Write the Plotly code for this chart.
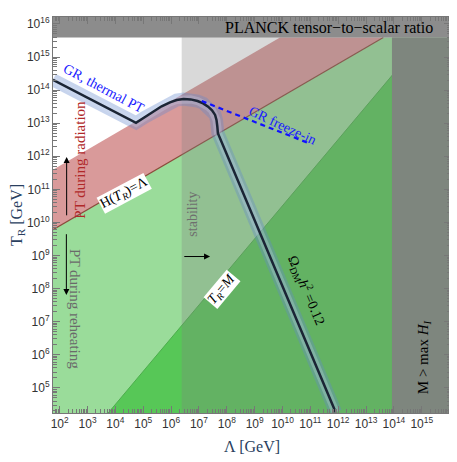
import plotly.graph_objects as go

# all values are log10 of GeV
x_lo, x_hi = 1.76, 16.05
y_lo, y_hi = 4.24, 16.21

planck_y = 15.59          # bottom of the PLANCK band
stab_x = 6.38             # start of stability region
mmax_x = 13.93            # start of M > max H_I band

# red band: upper line and H(T_R)=Lambda line
red_up_x = [1.76, 9.91]
red_up_y = [11.59, 15.59]
hline_x = [1.76, 13.62]
hline_y = [9.78, 15.59]

# T_R = M line
trm_x = [3.74, 14.05]
trm_y = [4.24, 14.56]

# relic abundance curve Omega h^2 = 0.12
dm_x = [1.76, 4.74, 5.05, 5.36, 5.66, 5.96, 6.20, 6.45, 6.70, 6.95, 7.15, 7.33, 7.47, 7.58, 7.63, 7.66, 7.68, 11.91]
dm_y = [14.31, 13.01, 13.18, 13.35, 13.51, 13.63, 13.70, 13.73, 13.72, 13.67, 13.60, 13.50, 13.39, 13.25, 13.10, 12.90, 12.70, 4.26]

# GR freeze-in dashed line
fi_x = [7.10, 10.93]
fi_y = [13.67, 12.40]

x_ticks = list(range(2, 16))
y_ticks = list(range(5, 17))

SERIF = "Liberation Serif, Times New Roman, serif"


def p(v):
    return [10 ** a for a in v]


def region(xs, ys, color):
    return go.Scatter(x=p(xs), y=p(ys), mode='lines', fill='toself',
                      fillcolor=color, line=dict(width=0), hoverinfo='skip',
                      showlegend=False)


fig = go.Figure()

# red band
fig.add_trace(region(
    [red_up_x[0], red_up_x[1], hline_x[1], hline_x[0]],
    [red_up_y[0], red_up_y[1], hline_y[1], hline_y[0]],
    '#d99a9a'))
# light green below H(T_R)=Lambda
fig.add_trace(region(
    [hline_x[0], hline_x[1], x_hi, x_hi, x_lo],
    [hline_y[0], hline_y[1], planck_y, y_lo, y_lo],
    '#9adc9a'))
# darker green below T_R=M
fig.add_trace(region(
    [trm_x[0], trm_x[1], x_hi, x_hi],
    [trm_y[0], trm_y[1], trm_y[1], y_lo],
    '#57c757'))
# H(T_R)=Lambda boundary line
fig.add_trace(go.Scatter(x=p(hline_x), y=p(hline_y), mode='lines',
                         line=dict(color='#8a4a3a', width=1.2),
                         hoverinfo='skip', showlegend=False))
# T_R=M boundary
fig.add_trace(go.Scatter(x=p(trm_x), y=p(trm_y), mode='lines',
                         line=dict(color='#4cae4c', width=1),
                         hoverinfo='skip', showlegend=False))
# stability overlay
fig.add_trace(region([stab_x, x_hi, x_hi, stab_x], [y_lo, y_lo, y_hi, y_hi],
                     'rgba(128,128,128,0.3)'))
# PLANCK band
fig.add_trace(region([x_lo, x_hi, x_hi, x_lo], [planck_y, planck_y, y_hi, y_hi],
                     '#8c8c8c'))
# M > max H_I band
fig.add_trace(region([mmax_x, x_hi, x_hi, mmax_x], [y_lo, y_lo, planck_y, planck_y],
                     '#7e867e'))

# relic curve: halo + line
fig.add_trace(go.Scatter(x=p(dm_x), y=p(dm_y), mode='lines',
                         line=dict(color='rgba(100,135,205,0.36)', width=13),
                         hoverinfo='skip', showlegend=False))
fig.add_trace(go.Scatter(x=p(dm_x), y=p(dm_y), mode='lines',
                         line=dict(color='rgba(215,225,245,0.25)', width=8),
                         hoverinfo='skip', showlegend=False))
fig.add_trace(go.Scatter(x=p(dm_x), y=p(dm_y), mode='lines',
                         line=dict(color='#1b2535', width=2.5),
                         hoverinfo='skip', showlegend=False))
# freeze-in
fig.add_trace(go.Scatter(x=p(fi_x), y=p(fi_y), mode='lines',
                         line=dict(color='#1010ff', width=2.2, dash='5px,4px'),
                         hoverinfo='skip', showlegend=False))


def label(x, y, text, angle=0, color='black', size=12, bg=None):
    fig.add_annotation(x=x, y=y, text=text, textangle=angle, showarrow=False,
                       font=dict(family=SERIF, size=size, color=color),
                       bgcolor=bg, borderpad=0)


def arrow(x0, y0, x1, y1):
    fig.add_annotation(x=x1, y=y1, ax=x0, ay=y0, axref='x', ayref='y',
                       text='', showarrow=True, arrowhead=2, arrowsize=1.2,
                       arrowwidth=1, arrowcolor='black')


label(11.68, 15.88, "PLANCK tensor−to−scalar ratio", size=16)
label(3.58, 14.04, "GR, thermal PT", angle=28, color='#1a1aff', size=14)
label(9.99, 12.92, "GR freeze-in", angle=25, color='#1a1aff', size=14)
label(2.72, 11.89, "PT during radiation", angle=-90, color='#b02828', size=15)
label(4.30, 10.89, "H(<i>T<sub>R</sub></i>)=Λ", angle=-28, size=14, bg='white')
label(6.78, 10.26, "stability", angle=-90, color='#6e6e6e', size=14)
label(2.54, 7.39, "PT during reheating", angle=90, color='#6a6a6a', size=15)
label(7.83, 7.96, "<i>T<sub>R</sub></i>=<i>M</i>", angle=-50, size=14, bg='white')
label(10.87, 7.96, "Ω<sub>DM</sub><i>h</i><sup>2</sup> =0.12", angle=67, size=14)
label(15.06, 5.94, "M > max <i>H<sub>I</sub></i>", angle=-90, size=15)

arrow(2.25, 10.17, 2.25, 11.98)
arrow(2.24, 9.69, 2.24, 7.81)
arrow(6.42, 8.97, 7.40, 8.97)

x_minor = [n * 10 ** k for k in range(1, 17) for n in range(2, 10)]
y_minor = [n * 10 ** k for k in range(4, 17) for n in range(2, 10)]

axis_common = dict(
    type='log', showgrid=False, zeroline=False, automargin=False,
    showline=True, linecolor='#777', linewidth=1, mirror='allticks',
    ticks='inside', ticklen=7, tickcolor='#777', tickwidth=1,
    tickfont=dict(family='Liberation Sans, Arial, sans-serif', size=12, color='#333'),
)

# page body adds an 8px offset, so the figure is 8px smaller and margins shifted
fig.update_layout(
    width=449, height=454,
    margin=dict(l=45, r=6, t=9, b=49),
    plot_bgcolor='white', paper_bgcolor='white',
    showlegend=False,
    xaxis=dict(axis_common, range=[x_lo, x_hi],
               tickmode='array', tickvals=[10 ** k for k in x_ticks],
               ticktext=[f"10<sup>{k}</sup>" for k in x_ticks],
               minor=dict(tickmode='array', tickvals=x_minor, ticks='inside',
                          ticklen=4, tickcolor='#777', showgrid=False),
               title=dict(text="Λ [GeV]", font=dict(family=SERIF, size=16),
                          standoff=10)),
    yaxis=dict(axis_common, range=[y_lo, y_hi],
               tickmode='array', tickvals=[10 ** k for k in y_ticks],
               ticktext=[f"10<sup>{k}</sup>" for k in y_ticks],
               minor=dict(tickmode='array', tickvals=y_minor, ticks='inside',
                          ticklen=4, tickcolor='#777', showgrid=False),
               title=dict(text="T<sub>R</sub> [GeV]", font=dict(family=SERIF, size=16),
                          standoff=11)),
)

fig.write_html("out.html")
